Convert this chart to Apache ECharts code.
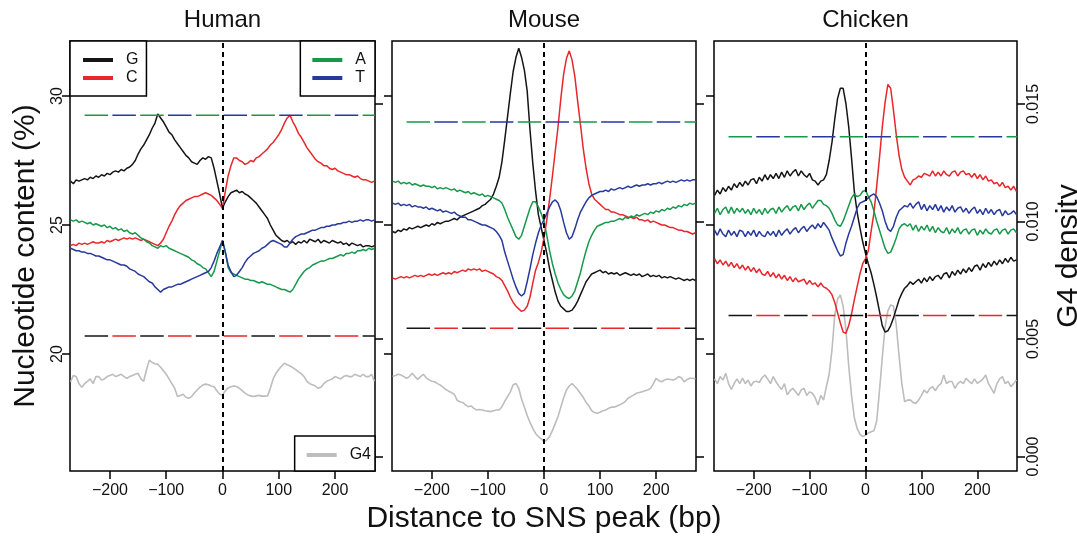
<!DOCTYPE html>
<html><head><meta charset="utf-8">
<script src="https://cdn.jsdelivr.net/npm/echarts@6/dist/echarts.min.js"></script>
<style>html,body{margin:0;padding:0;background:#fff}#c{width:1077px;height:537px}</style>
</head><body><div id="c"></div>
<script>
// Sampling positions (bp from SNS peak)
const X = [-270,-265,-260,-255,-250,-245,-240,-235,-230,-225,
 -220,-215,-210,-205,-200,-195,-190,-185,-180,-175,
 -170,-165,-160,-155,-150,-145,-140,-135,-130,-125,
 -120,-115,-110,-105,-100,-95,-90,-85,-80,-75,
 -70,-65,-60,-55,-50,-45,-40,-35,-30,-25,
 -20,-15,-10,-5,0,5,10,15,20,25,
 30,35,40,45,50,55,60,65,70,75,
 80,85,90,95,100,105,110,115,120,125,
 130,135,140,145,150,155,160,165,170,175,
 180,185,190,195,200,205,210,215,220,225,
 230,235,240,245,250,255,260,265,270];

const panels = ['Human','Mouse','Chicken'];
const xTicks = [-200,-100,0,100,200];
const leftTicks = [20,25,30];
const rightTicks = [0,0.005,0.010,0.015];
const expectedAT = [29.25, 28.99, 28.42];
const expectedGC = [20.70, 21.00, 21.49];
const dashStart = -245;

// ---------- Human ----------
const humanG = [26.7,26.6,26.75,26.7,26.75,26.8,26.75,26.85,26.8,26.9,
 26.85,26.95,26.9,27.0,26.95,27.05,27.1,27.05,27.15,27.1,
 27.2,27.25,27.35,27.5,27.75,27.95,28.1,28.3,28.5,28.75,
 28.95,29.3,29.15,29.0,28.8,28.6,28.5,28.3,28.15,28.0,
 27.85,27.7,27.6,27.45,27.4,27.35,27.5,27.6,27.55,27.65,
 27.6,27.2,26.7,26.2,25.65,25.9,26.1,26.25,26.3,26.35,
 26.25,26.3,26.2,26.15,26.05,25.95,25.85,25.7,25.55,25.4,
 25.25,25.0,24.8,24.6,24.5,24.4,24.35,24.4,24.3,24.35,
 24.25,24.35,24.3,24.4,24.3,24.45,24.4,24.35,24.45,24.3,
 24.4,24.35,24.3,24.4,24.35,24.3,24.35,24.25,24.3,24.2,
 24.3,24.25,24.2,24.25,24.15,24.2,24.2,24.15,24.2];
const humanC = [24.2,24.25,24.2,24.3,24.25,24.3,24.25,24.3,24.35,24.3,
 24.3,24.35,24.3,24.4,24.35,24.4,24.45,24.4,24.45,24.5,
 24.45,24.5,24.45,24.5,24.45,24.4,24.45,24.4,24.35,24.3,
 24.25,24.2,24.3,24.45,24.7,24.95,25.15,25.4,25.6,25.75,
 25.85,25.95,26.0,26.05,26.1,26.1,26.15,26.2,26.25,26.2,
 26.15,26.05,25.95,25.8,25.65,26.3,26.9,27.3,27.6,27.6,
 27.5,27.45,27.35,27.4,27.5,27.45,27.6,27.65,27.75,27.85,
 27.95,28.1,28.2,28.35,28.5,28.7,28.95,29.15,29.25,29.0,
 28.8,28.55,28.4,28.2,28.0,27.85,27.7,27.55,27.45,27.4,
 27.3,27.3,27.2,27.15,27.2,27.1,27.05,27.0,26.95,26.95,
 26.9,26.85,26.9,26.8,26.75,26.75,26.7,26.65,26.7];
const humanA = [25.2,25.15,25.2,25.1,25.15,25.1,25.05,25.1,25.0,25.05,
 25.0,24.95,25.0,24.9,24.95,24.85,24.9,24.8,24.85,24.75,
 24.8,24.7,24.65,24.7,24.6,24.5,24.45,24.35,24.3,24.2,
 24.15,24.1,24.2,24.15,24.2,24.1,24.05,24.0,23.95,23.9,
 23.85,23.8,23.75,23.65,23.6,23.5,23.45,23.35,23.3,23.15,
 23.0,23.2,23.6,24.0,24.4,23.95,23.35,23.15,23.1,23.05,
 23.0,22.95,22.9,22.9,22.85,22.85,22.8,22.75,22.8,22.75,
 22.7,22.7,22.65,22.6,22.55,22.5,22.5,22.45,22.4,22.5,
 22.7,22.9,23.05,23.2,23.3,23.35,23.45,23.5,23.55,23.6,
 23.6,23.65,23.7,23.7,23.75,23.8,23.85,23.8,23.9,23.9,
 23.95,23.9,24.0,24.0,24.05,24.0,24.1,24.05,24.1];
const humanT = [24.1,24.05,24.0,24.0,23.95,23.95,23.9,23.9,23.85,23.8,
 23.8,23.75,23.7,23.65,23.65,23.6,23.55,23.5,23.45,23.45,
 23.4,23.3,23.25,23.2,23.1,23.05,23.0,22.9,22.8,22.75,
 22.6,22.5,22.4,22.5,22.55,22.6,22.6,22.65,22.7,22.7,
 22.75,22.8,22.85,22.9,22.95,23.0,23.05,23.1,23.15,23.2,
 23.35,23.6,23.9,24.15,24.4,23.95,23.45,23.2,23.0,23.05,
 23.2,23.35,23.55,23.7,23.8,23.9,23.95,24.0,24.1,24.15,
 24.25,24.35,24.4,24.35,24.3,24.25,24.15,24.15,24.3,24.45,
 24.55,24.6,24.65,24.65,24.7,24.75,24.8,24.8,24.85,24.9,
 24.9,24.95,24.95,25.0,25.0,25.05,25.05,25.1,25.1,25.15,
 25.1,25.15,25.15,25.2,25.15,25.2,25.2,25.15,25.2];
const humanG4 = [0.00318,0.00345,0.0034,0.0031,0.00295,0.0031,0.0032,0.0033,0.0031,0.0034,
 0.0034,0.00325,0.0033,0.0034,0.00345,0.0035,0.0034,0.00345,0.0035,0.0034,
 0.00333,0.0034,0.00345,0.0035,0.00354,0.0033,0.0032,0.0037,0.0041,0.004,
 0.00395,0.00392,0.0038,0.00365,0.0035,0.0033,0.0031,0.0029,0.00255,0.0026,
 0.00265,0.00252,0.00248,0.00255,0.0027,0.00283,0.00295,0.00304,0.00308,0.00305,
 0.003,0.00297,0.0028,0.00265,0.00262,0.0028,0.00292,0.00297,0.003,0.00298,
 0.0029,0.0028,0.0027,0.00262,0.00258,0.00255,0.00258,0.0026,0.00257,0.00257,
 0.00258,0.0029,0.0033,0.00354,0.0037,0.00385,0.00397,0.0039,0.00385,0.00378,
 0.0037,0.0036,0.00352,0.0034,0.0032,0.0031,0.00305,0.003,0.0029,0.00295,
 0.0031,0.0032,0.00325,0.0033,0.0034,0.00335,0.0033,0.0034,0.00345,0.0034,
 0.0034,0.0035,0.00345,0.0034,0.0035,0.0034,0.0034,0.0035,0.0032];

// ---------- Mouse ----------
const mouseG = [24.75,24.7,24.8,24.75,24.85,24.8,24.9,24.85,24.9,24.95,
 24.9,24.95,25.0,24.95,25.05,25.0,25.1,25.05,25.1,25.15,
 25.15,25.2,25.25,25.2,25.3,25.35,25.4,25.45,25.5,25.55,
 25.6,25.65,25.75,25.8,25.9,26.0,26.2,26.5,26.85,27.45,
 28.3,29.2,30.1,30.95,31.5,31.85,31.5,31.0,30.2,28.7,
 27.4,26.3,25.4,24.9,24.4,23.9,23.3,22.85,22.4,22.05,
 21.85,21.75,21.65,21.65,21.7,21.85,22.05,22.3,22.55,22.8,
 22.95,23.1,23.15,23.2,23.25,23.15,23.2,23.1,23.15,23.1,
 23.15,23.05,23.1,23.15,23.1,23.05,23.1,23.05,23.1,23.0,
 23.05,23.1,23.0,23.05,23.0,23.05,22.95,23.0,22.95,23.0,
 22.95,22.9,22.95,22.9,22.85,22.9,22.85,22.9,22.85];
const mouseC = [22.95,22.9,22.95,23.0,22.95,23.0,22.95,23.0,23.05,23.0,
 23.05,23.0,23.05,23.1,23.05,23.1,23.05,23.1,23.15,23.1,
 23.15,23.1,23.2,23.15,23.2,23.25,23.2,23.3,23.25,23.3,
 23.25,23.3,23.2,23.25,23.2,23.15,23.1,23.0,22.95,22.85,
 22.65,22.45,22.2,22.0,21.85,21.75,21.65,21.7,21.85,22.2,
 22.75,23.25,23.55,23.95,24.5,25.2,26.0,26.9,27.85,28.8,
 29.9,30.85,31.45,31.75,31.4,30.75,29.8,28.9,27.95,27.2,
 26.6,26.2,26.0,25.9,25.8,25.7,25.6,25.6,25.5,25.5,
 25.45,25.4,25.4,25.35,25.3,25.3,25.25,25.3,25.2,25.2,
 25.15,25.2,25.1,25.15,25.1,25.05,25.0,25.0,24.95,24.9,
 24.9,24.85,24.8,24.8,24.75,24.75,24.7,24.65,24.7];
const mouseA = [26.7,26.65,26.7,26.6,26.65,26.6,26.65,26.55,26.6,26.55,
 26.5,26.55,26.5,26.5,26.45,26.5,26.4,26.45,26.4,26.45,
 26.4,26.35,26.4,26.3,26.35,26.3,26.25,26.3,26.2,26.25,
 26.2,26.15,26.2,26.1,26.15,26.1,26.05,26.0,25.95,25.85,
 25.6,25.3,25.05,24.8,24.55,24.45,24.6,24.95,25.3,25.65,
 25.9,25.9,25.7,25.45,25.15,24.6,24.0,23.5,23.1,22.75,
 22.5,22.3,22.2,22.15,22.25,22.45,22.8,23.15,23.6,24.0,
 24.35,24.6,24.8,24.95,25.0,25.05,25.1,25.1,25.15,25.15,
 25.2,25.25,25.2,25.3,25.25,25.35,25.3,25.4,25.35,25.4,
 25.45,25.4,25.5,25.45,25.55,25.5,25.6,25.55,25.65,25.6,
 25.7,25.65,25.75,25.7,25.8,25.75,25.85,25.8,25.85];
const mouseT = [25.85,25.8,25.85,25.75,25.8,25.75,25.8,25.7,25.75,25.7,
 25.7,25.65,25.7,25.6,25.65,25.6,25.55,25.6,25.5,25.55,
 25.5,25.45,25.5,25.4,25.35,25.3,25.3,25.2,25.2,25.15,
 25.1,25.05,25.0,25.0,24.95,24.9,24.85,24.75,24.6,24.4,
 23.95,23.6,23.25,22.9,22.6,22.35,22.25,22.35,22.8,23.3,
 23.85,24.3,24.7,25.0,25.2,25.45,25.7,25.9,25.97,25.85,
 25.55,25.1,24.7,24.45,24.55,24.85,25.2,25.5,25.7,25.9,
 26.05,26.15,26.2,26.25,26.3,26.3,26.35,26.3,26.4,26.35,
 26.4,26.45,26.4,26.45,26.5,26.45,26.5,26.55,26.5,26.55,
 26.55,26.6,26.55,26.6,26.6,26.65,26.6,26.65,26.7,26.65,
 26.7,26.65,26.7,26.75,26.7,26.75,26.7,26.75,26.75];
const mouseG4 = [0.0034,0.00345,0.0035,0.00347,0.0034,0.00333,0.0034,0.00354,0.0034,0.00328,
 0.0034,0.0035,0.00335,0.00326,0.0032,0.00318,0.0031,0.00304,0.00295,0.00285,
 0.00278,0.00272,0.00265,0.0024,0.00233,0.0023,0.0022,0.00212,0.00215,0.00205,
 0.00198,0.002,0.00198,0.00195,0.00193,0.00191,0.00195,0.00198,0.00198,0.00212,
 0.00235,0.00255,0.00275,0.00305,0.00311,0.0029,0.00245,0.0021,0.00175,0.00145,
 0.0012,0.00098,0.00085,0.00075,0.00063,0.0007,0.00085,0.0011,0.0014,0.0017,
 0.0021,0.0025,0.00283,0.003,0.0031,0.00298,0.00285,0.00268,0.00252,0.0023,
 0.00215,0.00195,0.00187,0.00184,0.00188,0.00195,0.00198,0.00205,0.0021,0.0021,
 0.00215,0.0022,0.00226,0.00235,0.00248,0.00255,0.00262,0.00269,0.00272,0.00276,
 0.0028,0.00283,0.0029,0.0031,0.00333,0.00322,0.00318,0.00326,0.0033,0.00328,
 0.00326,0.0033,0.0034,0.00335,0.00318,0.00328,0.00333,0.00333,0.0033];

// ---------- Chicken ----------
const chickenG = [26.15,26.35,26.2,26.45,26.3,26.5,26.35,26.6,26.45,26.65,
 26.5,26.7,26.55,26.75,26.8,26.6,26.85,26.7,26.95,26.75,
 26.95,26.8,27.0,26.8,27.05,26.85,27.1,26.9,27.05,27.15,
 26.9,27.1,26.95,26.85,27.0,26.75,26.7,26.55,26.7,26.75,
 26.95,27.5,28.2,29.1,29.9,30.3,30.3,29.7,28.8,27.6,
 26.3,25.5,24.9,24.35,23.9,23.5,23.15,22.7,22.2,21.65,
 21.1,20.85,20.9,21.1,21.4,21.75,22.1,22.35,22.55,22.65,
 22.8,22.7,22.8,22.9,22.75,22.95,22.8,23.0,22.85,23.0,
 23.05,22.9,23.1,23.15,22.95,23.2,23.05,23.25,23.1,23.3,
 23.15,23.35,23.2,23.4,23.45,23.25,23.5,23.35,23.55,23.4,
 23.6,23.45,23.65,23.5,23.7,23.55,23.75,23.6,23.65];
const chickenC = [23.7,23.5,23.65,23.45,23.6,23.4,23.55,23.35,23.5,23.3,
 23.45,23.25,23.4,23.2,23.35,23.15,23.3,23.1,23.05,23.2,
 23.0,23.15,22.95,23.1,22.9,23.05,22.85,23.0,22.8,22.95,
 22.8,22.85,22.9,22.7,22.85,22.7,22.75,22.6,22.75,22.6,
 22.55,22.45,22.3,22.0,21.6,21.2,20.85,20.8,21.1,21.55,
 22.1,22.6,23.1,23.5,23.7,24.0,24.75,25.45,26.5,27.6,
 28.8,29.75,30.45,30.3,29.45,28.5,27.7,27.15,26.85,26.7,
 26.55,26.75,26.8,26.9,26.85,27.0,26.95,26.9,27.1,26.9,
 27.05,26.9,27.1,26.95,26.9,27.05,27.1,26.9,27.05,27.1,
 26.95,27.0,26.85,27.0,26.8,26.95,26.75,26.9,26.7,26.75,
 26.6,26.65,26.5,26.65,26.45,26.5,26.35,26.5,26.3];
const chickenA = [25.45,25.65,25.4,25.6,25.7,25.45,25.7,25.45,25.65,25.5,
 25.65,25.45,25.6,25.4,25.65,25.45,25.6,25.4,25.65,25.45,
 25.6,25.65,25.45,25.7,25.5,25.65,25.75,25.55,25.7,25.75,
 25.55,25.8,25.6,25.75,25.85,25.65,25.8,25.95,25.95,25.8,
 25.75,25.65,25.45,25.2,25.0,24.95,25.15,25.45,25.75,26.05,
 26.2,26.1,26.15,26.3,26.35,26.1,25.9,25.55,25.15,24.8,
 24.45,24.1,23.9,23.95,24.2,24.5,24.85,25.0,25.05,24.95,
 25.05,24.8,25.0,24.75,24.95,24.8,25.0,24.75,24.95,24.7,
 24.9,24.75,24.7,24.9,24.65,24.85,24.7,24.9,24.65,24.8,
 24.85,24.65,24.8,24.85,24.6,24.8,24.65,24.85,24.7,24.65,
 24.8,24.85,24.65,24.8,24.85,24.65,24.8,24.85,24.7];
const chickenT = [24.8,24.6,24.85,24.65,24.55,24.8,24.6,24.75,24.55,24.8,
 24.75,24.55,24.75,24.6,24.8,24.55,24.75,24.6,24.55,24.75,
 24.6,24.75,24.55,24.8,24.6,24.75,24.85,24.65,24.8,24.9,
 24.7,24.85,24.95,24.75,24.9,25.0,24.85,25.05,24.9,25.1,
 24.95,24.8,24.5,24.25,24.0,23.8,23.85,24.3,24.65,24.95,
 25.3,25.65,25.85,25.9,25.95,26.05,26.15,26.2,26.1,25.85,
 25.55,25.15,24.85,24.75,24.95,25.3,25.55,25.65,25.75,25.7,
 25.85,25.65,25.8,25.9,25.6,25.8,25.55,25.75,25.6,25.8,
 25.55,25.75,25.5,25.7,25.55,25.75,25.5,25.65,25.7,25.5,
 25.65,25.45,25.6,25.7,25.45,25.6,25.4,25.65,25.45,25.6,
 25.4,25.55,25.6,25.35,25.55,25.4,25.45,25.55,25.4];
const chickenG4 = [0.0033,0.0031,0.0034,0.00325,0.00354,0.0031,0.00285,0.0031,0.0033,0.0031,
 0.00333,0.0031,0.00325,0.003,0.00318,0.0032,0.00315,0.00335,0.00347,0.0033,
 0.0031,0.0034,0.00318,0.003,0.00285,0.0031,0.00262,0.0028,0.0029,0.00275,
 0.0026,0.00283,0.0029,0.0026,0.00275,0.00269,0.0025,0.00219,0.0026,0.0024,
 0.00297,0.0035,0.00453,0.006,0.0067,0.00687,0.0064,0.0054,0.00385,0.0026,
 0.00165,0.0012,0.00095,0.00085,0.0009,0.001,0.00105,0.0011,0.0015,0.0028,
 0.0042,0.0055,0.0062,0.00645,0.0064,0.0056,0.0043,0.0031,0.00233,0.0024,
 0.00241,0.0023,0.00226,0.0024,0.0026,0.00283,0.0027,0.0029,0.00297,0.0028,
 0.003,0.0031,0.00347,0.0031,0.0032,0.00318,0.0029,0.0031,0.0032,0.0031,
 0.00333,0.0032,0.0031,0.0033,0.00311,0.0032,0.0033,0.00347,0.0031,0.0029,
 0.00269,0.0031,0.0033,0.0034,0.0031,0.0032,0.00297,0.0031,0.00326];

const panelData = [
  {G: humanG, C: humanC, A: humanA, T: humanT, G4: humanG4},
  {G: mouseG, C: mouseC, A: mouseA, T: mouseT, G4: mouseG4},
  {G: chickenG, C: chickenC, A: chickenA, T: chickenT, G4: chickenG4}
];

const FONT = "'Liberation Sans', Arial, Helvetica, sans-serif";
const COLORS = {G:'#151515', C:'#e8262b', A:'#17994b', T:'#28399c', G4:'#bdbdbd'};
const X_MIN = -271, X_MAX = 271;
const gridLeft = [70, 392, 714], gridWidth = [305, 304, 303];
const GRID_TOP = 41, GRID_H = 430;
const tickStyle = {color:'#000', width:1.5};
const zip = ys => X.map((x, k) => [x, ys[k]]);

const grid = gridLeft.map((l, i) => ({left:l, top:GRID_TOP, width:gridWidth[i], height:GRID_H,
  show:true, borderColor:'#000', borderWidth:1.5, backgroundColor:'#fff', containLabel:false, outerBoundsMode:'none'}));

const xAxis = panels.map((p, i) => ({
  type:'value', gridIndex:i, min:X_MIN, max:X_MAX,
  axisLine:{show:false, onZero:false}, splitLine:{show:false},
  axisTick:{show:true, inside:false, length:8, customValues:xTicks, lineStyle:tickStyle},
  axisLabel:{show:true, customValues:xTicks, margin:12, fontSize:16, color:'#111', fontFamily:FONT,
    formatter: v => String(v).replace('-', '\u2212')},
  name: i === 1 ? 'Distance to SNS peak (bp)' : '', nameLocation:'middle', nameGap:32,
  nameTextStyle:{fontSize:30, color:'#111', fontFamily:FONT}
}));

const yAxis = [];
panels.forEach((p, i) => {
  yAxis.push({
    type:'value', gridIndex:i, position:'left', min:15.465, max:32.132,
    axisLine:{show:false, onZero:false}, splitLine:{show:false},
    axisTick:{show:true, inside:false, length:8, customValues:leftTicks, lineStyle:tickStyle},
    axisLabel:{show:i === 0, customValues:leftTicks, rotate:90, margin:4, fontSize:16, color:'#111',
      fontFamily:FONT, align:'center', verticalAlign:'bottom'},
    name: i === 0 ? 'Nucleotide content (%)' : '', nameLocation:'middle', nameGap:29, nameRotate:90,
    nameTextStyle:{fontSize:30, color:'#111', fontFamily:FONT}
  });
  yAxis.push({
    type:'value', gridIndex:i, position:'right', min:-0.000617, max:0.01768,
    axisLine:{show:false, onZero:false}, splitLine:{show:false},
    axisTick:{show:true, inside:false, length:8, customValues:rightTicks, lineStyle:tickStyle},
    axisLabel:{show:i === 2, customValues:rightTicks, rotate:90, margin:9, fontSize:16, color:'#111',
      fontFamily:FONT, align:'center', verticalAlign:'top', formatter: v => v.toFixed(3)},
    name: i === 2 ? 'G4 density' : '', nameLocation:'middle', nameGap:37, nameRotate:90,
    nameTextStyle:{fontSize:30, color:'#111', fontFamily:FONT}
  });
});

const series = [];
panelData.forEach((pd, i) => {
  ['G','C','A','T'].forEach(k => series.push({
    name:k, type:'line', xAxisIndex:i, yAxisIndex:2*i, data:zip(pd[k]), symbol:'none', silent:true,
    lineStyle:{color:COLORS[k], width:1.5}, itemStyle:{color:COLORS[k]}, z:3
  }));
  series.push({
    name:'G4', type:'line', xAxisIndex:i, yAxisIndex:2*i+1, data:zip(pd.G4), symbol:'none', silent:true,
    lineStyle:{color:COLORS.G4, width:1.6}, itemStyle:{color:COLORS.G4}, z:2,
    markLine:{silent:true, symbol:['none','none'], label:{show:false}, animation:false,
      lineStyle:{color:'#000', width:2, type:[5,4]}, emphasis:{disabled:true}, data:[{xAxis:0}]}
  });
  const dash = (val, color, offset) => ({
    type:'line', xAxisIndex:i, yAxisIndex:2*i, data:[[dashStart, val],[X_MAX, val]], symbol:'none', silent:true,
    lineStyle:{color:color, width:1.5, type:[23.5, 32.1], dashOffset:offset}, z:4
  });
  series.push(dash(expectedAT[i], COLORS.A, 0), dash(expectedAT[i], COLORS.T, 27.85),
              dash(expectedGC[i], COLORS.G, 0), dash(expectedGC[i], COLORS.C, 27.85));
});

const legendBase = {orient:'vertical', icon:'rect', itemWidth:30, itemHeight:4, itemGap:2,
  borderColor:'#000', borderWidth:1.5, backgroundColor:'#fff', selectedMode:false, borderRadius:0,
  textStyle:{fontSize:16, lineHeight:16, color:'#111', fontFamily:FONT, padding:[0,0,0,8]}, z:10};

const option = {
  animation:false,
  backgroundColor:'#fff',
  title: panels.map((p, i) => ({text:p, left:gridLeft[i] + gridWidth[i]/2, top:8, textAlign:'center', padding:0,
    textStyle:{fontSize:24, fontWeight:'normal', color:'#111', fontFamily:FONT}})),
  legend: [
    Object.assign({}, legendBase, {left:70, top:41, data:['G','C'], padding:[11,8,10,13]}),
    Object.assign({}, legendBase, {right:702, top:41, data:['A','T'], padding:[11,9,10,12]}),
    Object.assign({}, legendBase, {right:702, top:436, data:['G4'], padding:[11,4,8,12]})
  ],
  grid, xAxis, yAxis, series
};

const chart = echarts.init(document.getElementById('c'), null, {renderer:'canvas'});
chart.setOption(option);
</script>
</body></html>
